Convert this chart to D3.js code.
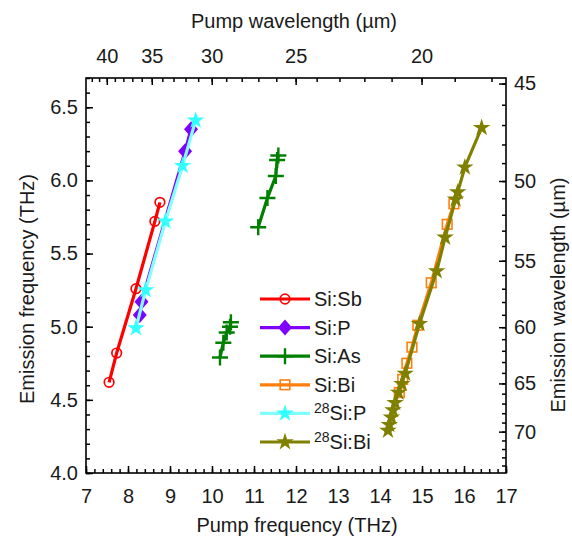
<!DOCTYPE html>
<html lang="en">
<head>
<meta charset="UTF-8">
<title>Pump vs emission frequency</title>
<script src="https://cdn.jsdelivr.net/npm/d3@7"></script>
<style>
  body { margin: 0; background: #fff; }
  svg { font-family: "Liberation Sans", Arial, sans-serif; }
</style>
</head>
<body>
<svg id="chart" width="572" height="537"></svg>
<script>
// pump frequency (THz) / emission frequency (THz) per sample
const siSbX = [7.55, 7.73, 8.19, 8.64, 8.76];
const siSbY = [4.62, 4.82, 5.26, 5.72, 5.85];

const siPX = [8.28, 8.32, 9.36, 9.50];
const siPY = [5.08, 5.17, 6.20, 6.35];

// two separate groups, null breaks the line
const siAsX = [10.19, 10.27, 10.35, 10.43, 10.45, null, 11.10, 11.32, 11.52, 11.55, 11.58];
const siAsY = [4.79, 4.89, 4.96, 5.00, 5.03, null, 5.68, 5.88, 6.03, 6.14, 6.17];

const siBiX = [14.46, 14.54, 14.64, 14.76, 14.90, 15.22, 15.60, 15.76];
const siBiY = [4.55, 4.64, 4.75, 4.86, 5.01, 5.30, 5.70, 5.84];

const si28PX = [8.19, 8.42, 8.89, 9.30, 9.61];
const si28PY = [4.99, 5.25, 5.72, 6.10, 6.41];

const si28BiX = [14.19, 14.22, 14.27, 14.31, 14.36, 14.44, 14.52, 14.60, 14.94, 15.35, 15.55, 15.80, 15.85, 16.02, 16.42];
const si28BiY = [4.29, 4.33, 4.38, 4.43, 4.48, 4.55, 4.61, 4.68, 5.02, 5.38, 5.61, 5.87, 5.92, 6.09, 6.36];

const topMajor = [40, 35, 30, 25, 20];      // pump wavelength (um)
const rightMajor = [45, 50, 55, 60, 65, 70]; // emission wavelength (um)

const C = 299.792458; // um*THz

const series = [
  { name: "Si:Sb", xs: siSbX, ys: siSbY, color: "#ff0000", line: "#ff0000", mark: "circle" },
  { name: "Si:P", xs: siPX, ys: siPY, color: "#7f00ff", line: "#7f00ff", mark: "diamond" },
  { name: "Si:As", xs: siAsX, ys: siAsY, color: "#007f00", line: "#007f00", mark: "plus" },
  { name: "Si:Bi", xs: siBiX, ys: siBiY, color: "#ff7f0e", line: "#ff7f0e", mark: "square" },
  { name: "Si:P", sup: "28", xs: si28PX, ys: si28PY, color: "#33ffff", line: "#80ffff", mark: "star" },
  { name: "Si:Bi", sup: "28", xs: si28BiX, ys: si28BiY, color: "#808000", line: "#808000", mark: "star" }
];

const svg = d3.select("#chart");
const m = { left: 86, right: 506, top: 78, bottom: 473 };

const x = d3.scaleLinear().domain([7, 17]).range([m.left, m.right]);
const y = d3.scaleLinear().domain([4, 6.7]).range([m.bottom, m.top]);

const fs = 20;
const ink = "#1a1a1a";

function styleAxis(g) {
  g.select(".domain").remove();
  g.selectAll("line").attr("stroke", "#000").attr("stroke-width", 1.5);
  g.selectAll("text").attr("font-size", fs).attr("fill", ink);
}

// minor ticks
const xMinor = d3.range(7, 17.001, 0.2).map(v => +v.toFixed(1));
const yMinor = d3.range(4, 6.701, 0.1).map(v => +v.toFixed(1));
const topMinor = d3.range(18, 43);
const rightMinor = d3.range(45, 75);

svg.append("g").attr("transform", `translate(0,${m.bottom})`)
  .call(d3.axisBottom(x).tickValues(xMinor).tickSize(-4).tickFormat(""))
  .call(styleAxis);
svg.append("g").attr("transform", `translate(0,${m.bottom})`)
  .call(d3.axisBottom(x).tickValues(d3.range(7, 18)).tickSize(-7).tickPadding(16).tickFormat(d3.format("d")))
  .call(styleAxis);

svg.append("g").attr("transform", `translate(${m.left},0)`)
  .call(d3.axisLeft(y).tickValues(yMinor).tickSize(-4).tickFormat(""))
  .call(styleAxis);
svg.append("g").attr("transform", `translate(${m.left},0)`)
  .call(d3.axisLeft(y).tickValues([4, 4.5, 5, 5.5, 6, 6.5]).tickSize(-7).tickPadding(8).tickFormat(d3.format(".1f")))
  .call(styleAxis);

svg.append("g").attr("transform", `translate(0,${m.top})`)
  .call(d3.axisTop(x).tickValues(topMinor.map(l => C / l)).tickSize(-4).tickFormat(""))
  .call(styleAxis);
svg.append("g").attr("transform", `translate(0,${m.top})`)
  .call(d3.axisTop(x).tickValues(topMajor.map(l => C / l)).tickSize(-7).tickPadding(15)
    .tickFormat(f => d3.format("d")(Math.round(C / f))))
  .call(styleAxis);

svg.append("g").attr("transform", `translate(${m.right},0)`)
  .call(d3.axisRight(y).tickValues(rightMinor.map(l => C / l)).tickSize(-4).tickFormat(""))
  .call(styleAxis);
svg.append("g").attr("transform", `translate(${m.right},0)`)
  .call(d3.axisRight(y).tickValues(rightMajor.map(l => C / l)).tickSize(-7).tickPadding(8)
    .tickFormat(f => d3.format("d")(Math.round(C / f))))
  .call(styleAxis);

// frame
svg.append("rect")
  .attr("x", m.left).attr("y", m.top)
  .attr("width", m.right - m.left).attr("height", m.bottom - m.top)
  .attr("fill", "none").attr("stroke", "#000").attr("stroke-width", 1.6);

// axis titles
svg.append("text").attr("x", 297).attr("y", 532).attr("text-anchor", "middle")
  .attr("font-size", fs).attr("fill", ink).text("Pump frequency (THz)");
svg.append("text").attr("x", 294).attr("y", 28).attr("text-anchor", "middle")
  .attr("font-size", fs).attr("fill", ink).text("Pump wavelength (µm)");
svg.append("text").attr("transform", "translate(34,289) rotate(-90)").attr("text-anchor", "middle")
  .attr("font-size", fs).attr("fill", ink).text("Emission frequency (THz)");
svg.append("text").attr("transform", "translate(565,295) rotate(-90)").attr("text-anchor", "middle")
  .attr("font-size", fs).attr("fill", ink).text("Emission wavelength (µm)");

// marker drawing
function marker(g, type, color) {
  if (type === "circle") {
    g.append("circle").attr("r", 4.8).attr("fill", "none")
      .attr("stroke", color).attr("stroke-width", 1.7);
  } else if (type === "diamond") {
    g.append("path").attr("d", "M0,-8L7,0L0,8L-7,0Z").attr("fill", color);
  } else if (type === "plus") {
    g.append("path").attr("d", "M-8,0H8M0,-8V8").attr("stroke", color).attr("stroke-width", 2.4);
  } else if (type === "square") {
    g.append("rect").attr("x", -4.8).attr("y", -4.8).attr("width", 9.6).attr("height", 9.6)
      .attr("fill", "none").attr("stroke", color).attr("stroke-width", 1.6);
  } else if (type === "star") {
    g.append("path").attr("d", d3.symbol(d3.symbolStar, 95)()).attr("fill", color);
  }
}

const line = d3.line()
  .defined(d => d[0] !== null)
  .x(d => x(d[0]))
  .y(d => y(d[1]));

series.forEach(s => {
  const pts = s.xs.map((v, i) => [v, s.ys[i]]);
  const g = svg.append("g");
  g.append("path").datum(pts).attr("d", line)
    .attr("fill", "none").attr("stroke", s.line).attr("stroke-width", 3.2);
  g.selectAll("g.pt").data(pts.filter(d => d[0] !== null)).join("g")
    .attr("class", "pt")
    .attr("transform", d => `translate(${x(d[0])},${y(d[1])})`)
    .each(function () { marker(d3.select(this), s.mark, s.color); });
});

// legend
const leg = svg.append("g");
series.forEach((s, i) => {
  const ly = 299 + i * 28.6;
  const row = leg.append("g");
  row.append("line").attr("x1", 260).attr("x2", 310).attr("y1", ly).attr("y2", ly)
    .attr("stroke", s.line).attr("stroke-width", 3.2);
  const mk = row.append("g").attr("transform", `translate(285,${ly})`);
  marker(mk, s.mark, s.color);
  const t = row.append("text").attr("x", 314).attr("y", ly + 7)
    .attr("font-size", fs).attr("fill", ink);
  if (s.sup) {
    t.append("tspan").attr("font-size", 14).attr("dy", -7).text(s.sup);
    t.append("tspan").attr("dy", 7).text(s.name);
  } else {
    t.text(s.name);
  }
});
</script>
</body>
</html>
